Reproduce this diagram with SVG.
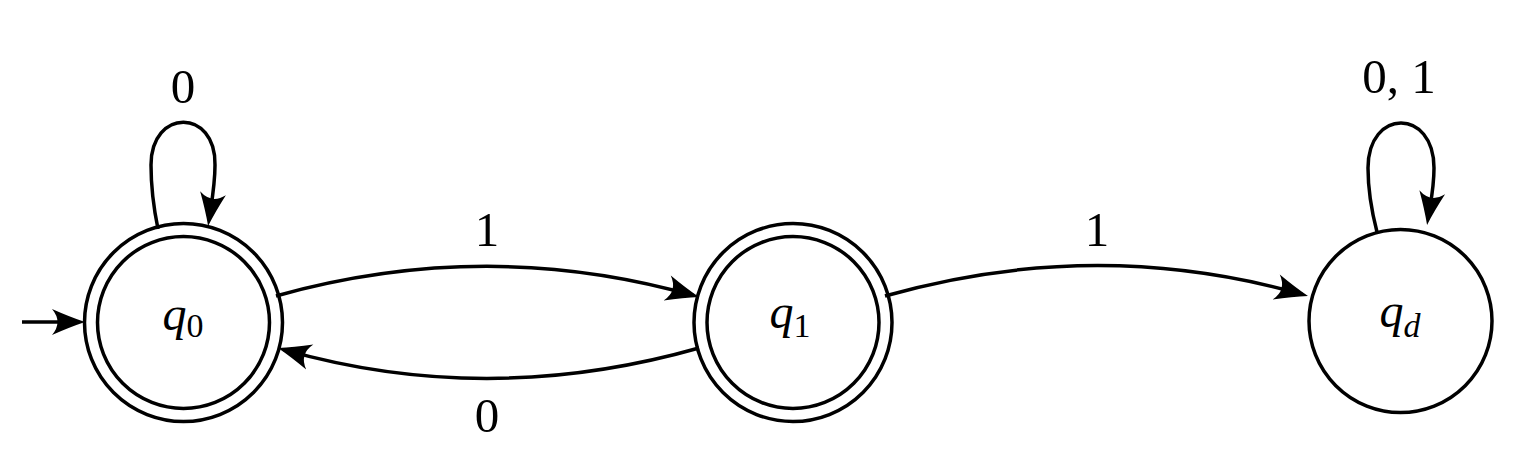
<svg xmlns="http://www.w3.org/2000/svg" width="1520" height="474" viewBox="0 0 1520 474">
<style>
.st{fill:none;stroke:#000;stroke-width:3.5}
.ed{fill:none;stroke:#000;stroke-width:3.5;marker-end:url(#ah)}
.lb{font-family:"Liberation Serif","DejaVu Serif",serif;font-size:49px;fill:#000;text-anchor:middle}
.nm{font-family:"Liberation Serif","DejaVu Serif",serif;font-size:48px;fill:#000;text-anchor:middle}
.q{font-style:italic}
</style>
<defs>
<marker id="ah" markerUnits="userSpaceOnUse" orient="auto" viewBox="-34 -17 44 34" markerWidth="44" markerHeight="34" refX="0" refY="0" overflow="visible">
<path d="M6,0 Q-9,-5 -27,-13 Q-16,0 -27,13 Q-9,5 6,0 Z" fill="#000"/>
</marker>
</defs>
<g id="q0">
<circle class="st" cx="183.5" cy="322.5" r="99"/>
<circle class="st" cx="183.5" cy="322.5" r="86"/>
<text class="nm" x="183" y="330"><tspan class="q">q</tspan><tspan font-size="34" dy="7">0</tspan></text>
</g>
<g id="q1">
<circle class="st" cx="793" cy="322.5" r="99"/>
<circle class="st" cx="793" cy="322.5" r="86"/>
<text class="nm" x="790" y="328"><tspan class="q">q</tspan><tspan font-size="34" dy="9">1</tspan></text>
</g>
<g id="qd">
<circle class="st" cx="1400.5" cy="321" r="91.5"/>
<text class="nm" x="1400" y="327"><tspan class="q">q</tspan><tspan class="q" font-size="34" dy="10">d</tspan></text>
</g>
<g id="edges">
<path class="ed" d="M22,322 L79,322"/>
<path class="ed" d="M158,229 C152,200 151,180 151,165 C151,108 216,108 215,165 C215,185 212,200 209,220"/>
<path class="ed" d="M1377,232 C1370,205 1368,185 1368,168 C1368,108 1434,108 1434,168 C1434,188 1431,200 1428,219"/>
<path class="ed" d="M276,296 Q487,237 693.2,295.4"/>
<path class="ed" d="M699,348 Q488,408 283.8,349.6"/>
<path class="ed" d="M885,296 Q1096,236 1302.2,294.4"/>
<text class="lb" x="183" y="103">0</text>
<text class="lb" x="1399" y="93">0, 1</text>
<text class="lb" x="487" y="246">1</text>
<text class="lb" x="487" y="432">0</text>
<text class="lb" x="1097" y="246">1</text>
</g>
</svg>
